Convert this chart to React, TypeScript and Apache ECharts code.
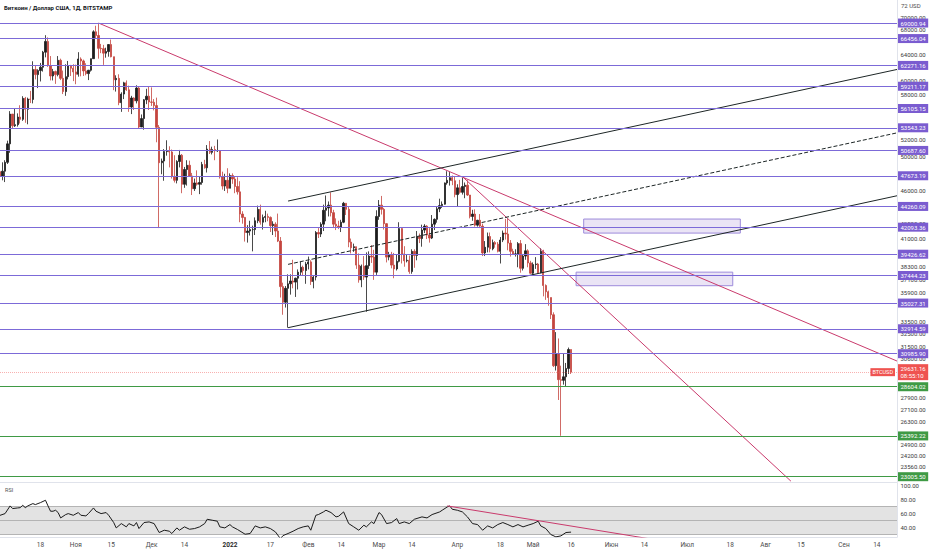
import React, { useEffect, useRef } from 'react';
import * as echarts from 'echarts';

const FONT = 'Roboto, "Liberation Sans", sans-serif';

// first category of the time axis and how many days the axis shows (incl. empty future)
const firstDay = '2021-10-02';
const dayCount = 356;

// daily candles from 2021-10-02 to 2022-05-16: [open, close, low, high]
const ohlc: number[][] = [
  // Oct 2021
  [48150, 47650, 47100, 48350], [47650, 48200, 47150, 49250], [48200, 49250, 46950, 49500], [49250, 51500, 49050, 51900],
  [51500, 55350, 50400, 55750], [55350, 53800, 53400, 55350], [53800, 53950, 53650, 56100], [53950, 54950, 53700, 55450],
  [54950, 54650, 54100, 56550], [54650, 57500, 54450, 57800], [57500, 56000, 54200, 57700], [56000, 57400, 54000, 57600],
  [57400, 57350, 56850, 58550], [57350, 61650, 56800, 62900], [61650, 60900, 60200, 62300], [60900, 61500, 58950, 61700],
  [61500, 62000, 59900, 62650], [62000, 64300, 61350, 64500], [64300, 66000, 63500, 67000], [66000, 62250, 62050, 66650],
  [62250, 60700, 60050, 63700], [60700, 61350, 60050, 61750], [61350, 60900, 59550, 61500], [60900, 63050, 60650, 63700],
  [63050, 60350, 60100, 63300], [60350, 58450, 58100, 61500], [58450, 60600, 57850, 62450], [60600, 62250, 60200, 62950],
  [62250, 61850, 60700, 62350], [61850, 61300, 59950, 62450],
  // Nov 2021
  [61300, 60950, 59500, 62400], [60950, 63250, 60600, 64300], [63250, 62950, 60650, 63500], [62950, 61450, 60700, 63150],
  [61450, 61050, 60800, 62600], [61050, 61550, 60100, 61600], [61550, 63300, 61350, 63300], [63300, 67550, 63300, 67800],
  [67550, 66950, 66400, 68550], [66950, 64900, 63300, 69000], [64900, 64850, 64150, 65600], [64850, 64150, 62350, 65450],
  [64150, 64400, 63450, 65000], [64400, 65500, 63600, 65550], [65500, 63600, 63500, 66300], [63600, 60150, 58650, 63600],
  [60150, 60350, 58450, 60800], [60350, 56900, 56550, 60950], [56900, 58100, 55650, 58350], [58100, 59700, 57400, 59850],
  [59700, 58700, 58550, 60050], [58700, 56300, 55650, 59300], [56300, 57550, 55350, 57850], [57550, 57150, 55900, 57650],
  [57150, 58950, 56800, 59350], [58950, 53650, 53500, 59200], [53650, 54750, 53650, 55300], [54750, 57300, 53300, 57400],
  [57300, 57800, 56700, 58850], [57800, 57000, 55900, 59200],
  // Dec 2021
  [57000, 56950, 56450, 59050], [56950, 56500, 55850, 57400], [56500, 53600, 51700, 57600], [53600, 49200, 42000, 53900],
  [49200, 49400, 47850, 49700], [49400, 50550, 47100, 50850], [50550, 50600, 50050, 51950], [50600, 50500, 48650, 51200],
  [50500, 47600, 47350, 50800], [47600, 47150, 46900, 50100], [47150, 49350, 46800, 49500], [49350, 50100, 48650, 50750],
  [50100, 46700, 45700, 50250], [46700, 48400, 46300, 48700], [48400, 48900, 46550, 49500], [48900, 47650, 47550, 49450],
  [47650, 46200, 45500, 48000], [46200, 46850, 45950, 47350], [46850, 46700, 46550, 48300], [46700, 46900, 45600, 47550],
  [46900, 49000, 46650, 49300], [49000, 48600, 48500, 49550], [48600, 50850, 48050, 51350], [50850, 50450, 50250, 51850],
  [50450, 50800, 50200, 51150], [50800, 50650, 49500, 51250], [50650, 50650, 50500, 52050], [50650, 47550, 47350, 50650],
  [47550, 46500, 46100, 48150], [46500, 47150, 45950, 47900], [47150, 46250, 45700, 48550],
  // Jan 2022
  [46250, 47700, 46250, 47950], [47700, 47300, 46750, 47950], [47300, 46450, 45700, 47550], [46450, 45850, 45550, 47500],
  [45850, 43450, 42600, 47050], [43450, 43100, 42450, 43750], [43100, 41550, 40650, 43150], [41550, 41700, 40550, 42300],
  [41700, 41850, 41250, 42750], [41850, 41850, 39700, 42250], [41850, 42750, 41300, 43100], [42750, 43950, 42500, 44350],
  [43950, 42600, 42350, 44450], [42600, 43100, 41850, 43400], [43100, 43200, 42600, 43800], [43200, 43100, 42700, 43500],
  [43100, 42250, 41600, 43200], [42250, 42400, 41300, 42700], [42400, 41700, 41100, 42600], [41700, 40700, 40600, 43500],
  [40700, 36450, 35500, 41100], [36450, 35100, 34050, 36800], [35100, 36300, 34650, 36500], [36300, 36700, 33000, 37550],
  [36700, 36950, 35750, 37550], [36950, 36850, 36300, 38900], [36850, 37200, 35550, 37250], [37200, 37750, 36200, 38000],
  [37750, 38200, 37400, 38700], [38200, 37900, 37400, 38350], [37900, 38500, 36700, 38700],
  // Feb 2022
  [38500, 38700, 38000, 39200], [38700, 36900, 36600, 38850], [36900, 37300, 36300, 37400], [37300, 41550, 37000, 41700],
  [41550, 41400, 41000, 42000], [41400, 42400, 41100, 42600], [42400, 43850, 41700, 44450], [43850, 44100, 42700, 45450],
  [44100, 44400, 43200, 44800], [44400, 43600, 43200, 45800], [43600, 42400, 42000, 43900], [42400, 42200, 41800, 43000],
  [42200, 42100, 41900, 42750], [42100, 42600, 41600, 42850], [42600, 44600, 42500, 44750], [44600, 43950, 43350, 44600],
  [43950, 40600, 40100, 44200], [40600, 40050, 39500, 40950], [40050, 40150, 39650, 40450], [40150, 38400, 38050, 40150],
  [38400, 37050, 36800, 39500], [37050, 38300, 36400, 38450], [38300, 37300, 37050, 39250], [37300, 38350, 34300, 39600],
  [38350, 39250, 38050, 39700], [39250, 39150, 38600, 40300], [39150, 37750, 37050, 39850], [37750, 43200, 37500, 43850],
  // Mar 2022
  [43200, 44400, 42850, 44950], [44400, 43950, 43400, 45400], [43950, 42450, 41850, 44100], [42450, 39150, 38650, 42500],
  [39150, 39400, 38850, 39650], [39400, 38400, 38100, 39650], [38400, 38050, 37200, 39550], [38050, 38750, 37900, 39400],
  [38750, 41950, 38650, 42600], [41950, 39450, 38550, 42000], [39450, 38800, 38250, 40200], [38800, 38850, 38650, 39350],
  [38850, 37800, 37600, 39300], [37800, 39700, 37600, 39900], [39700, 39300, 38150, 39900], [39300, 41150, 38850, 41700],
  [41150, 40950, 40500, 41450], [40950, 41800, 40150, 42350], [41800, 42200, 41500, 42400], [42200, 41300, 40900, 42300],
  [41300, 41000, 40550, 42000], [41000, 42400, 40900, 43350], [42400, 42900, 41800, 43000], [42900, 44000, 42550, 44250],
  [44000, 44350, 43650, 45100], [44350, 44500, 44100, 44800], [44500, 46850, 44450, 46900], [46850, 47150, 46650, 48200],
  [47150, 47450, 46550, 48100], [47450, 47100, 46600, 47700], [47100, 45550, 45250, 47600],
  // Apr 2022
  [45550, 46300, 44250, 46700], [46300, 45800, 45650, 47200], [45800, 46450, 45550, 47450], [46450, 46600, 45150, 46900],
  [46600, 45500, 45400, 47150], [45500, 43200, 43000, 45500], [43200, 43450, 42750, 43900], [43450, 42300, 42150, 43950],
  [42300, 42800, 42150, 42850], [42800, 42200, 42000, 43450], [42200, 39550, 39250, 42450], [39550, 40100, 39250, 40700],
  [40100, 41150, 39600, 41550], [41150, 39950, 39600, 41550], [39950, 40550, 39800, 40850], [40550, 40400, 40050, 40700],
  [40400, 39700, 39600, 40600], [39700, 40800, 38550, 41100], [40800, 41500, 40600, 41750], [41500, 41400, 40850, 42950],
  [41400, 40500, 39800, 42950], [40500, 39700, 39200, 40800], [39700, 39450, 39350, 39950], [39450, 39450, 39200, 39900],
  [39450, 40450, 38200, 40600], [40450, 38100, 37700, 40800], [38100, 39250, 37900, 39450], [39250, 39750, 38900, 40400],
  [39750, 38600, 38200, 39900], [38600, 37650, 37600, 38800],
  // May 2022
  [37650, 38450, 37400, 38650], [38450, 38500, 38050, 39150], [38500, 37700, 37600, 38600], [37700, 39700, 37650, 40000],
  [39700, 36550, 35600, 39850], [36550, 36000, 35300, 36650], [36000, 35500, 34800, 36100], [35500, 34050, 33700, 35500],
  [34050, 30100, 30000, 34250], [30100, 31000, 29750, 32650], [31000, 29100, 27700, 32150], [29100, 29050, 25400, 30100],
  [29050, 29300, 28750, 31000], [29300, 29900, 28650, 30300], [29900, 31300, 29500, 31450], [31300, 29631.16, 29500, 31300],
];

// RSI(14)
const rsiPoints: [string, number][] = [
  ['2021-10-02', 57], ['2021-10-04', 59.5], ['2021-10-06', 70.5], ['2021-10-07', 66.7], ['2021-10-09', 67.6],
  ['2021-10-10', 68], ['2021-10-11', 71.4], ['2021-10-12', 68], ['2021-10-13', 70.5], ['2021-10-15', 73.8],
  ['2021-10-16', 72.4], ['2021-10-18', 75.2], ['2021-10-20', 78.6], ['2021-10-21', 70.5], ['2021-10-22', 62.9],
  ['2021-10-23', 62.9], ['2021-10-24', 64.3], ['2021-10-25', 61], ['2021-10-26', 53.3], ['2021-10-28', 58.1],
  ['2021-10-29', 59.5], ['2021-10-31', 57.1], ['2021-11-02', 61], ['2021-11-03', 57.1], ['2021-11-05', 56.2],
  ['2021-11-06', 59.5], ['2021-11-08', 67.6], ['2021-11-09', 62.9], ['2021-11-11', 59.5], ['2021-11-13', 61],
  ['2021-11-14', 57.1], ['2021-11-16', 46.7], ['2021-11-17', 39], ['2021-11-19', 45.2], ['2021-11-21', 40.5],
  ['2021-11-22', 45.2], ['2021-11-24', 41.9], ['2021-11-25', 46.7], ['2021-11-26', 38.1], ['2021-11-28', 46.7],
  ['2021-11-30', 47.6], ['2021-12-02', 45.2], ['2021-12-04', 32.4], ['2021-12-06', 35.7], ['2021-12-08', 34.3],
  ['2021-12-09', 31], ['2021-12-11', 39], ['2021-12-12', 35.7], ['2021-12-14', 40.5], ['2021-12-16', 37.1],
  ['2021-12-18', 38.1], ['2021-12-20', 40.5], ['2021-12-22', 45.2], ['2021-12-23', 51.4], ['2021-12-25', 50],
  ['2021-12-27', 48.6], ['2021-12-28', 40.5], ['2021-12-30', 39], ['2022-01-01', 43.8], ['2022-01-02', 40.5],
  ['2022-01-04', 36.7], ['2022-01-07', 30], ['2022-01-09', 31], ['2022-01-11', 41.9], ['2022-01-13', 39],
  ['2022-01-15', 40.5], ['2022-01-17', 38.1], ['2022-01-19', 33.3], ['2022-01-21', 23.5], ['2022-01-22', 28],
  ['2022-01-24', 31], ['2022-01-26', 34.3], ['2022-01-28', 38.1], ['2022-01-30', 40.5], ['2022-02-01', 41.9],
  ['2022-02-02', 35.7], ['2022-02-04', 57.1], ['2022-02-05', 58.1], ['2022-02-07', 61.9], ['2022-02-08', 64.3],
  ['2022-02-10', 61], ['2022-02-12', 54.8], ['2022-02-13', 55.7], ['2022-02-15', 61.9], ['2022-02-17', 45.2],
  ['2022-02-19', 40.5], ['2022-02-21', 35.7], ['2022-02-23', 42.9], ['2022-02-24', 40.5], ['2022-02-26', 47.6],
  ['2022-02-27', 45.2], ['2022-03-01', 61], ['2022-03-02', 58.1], ['2022-03-04', 45.2], ['2022-03-06', 46.7],
  ['2022-03-08', 52.4], ['2022-03-09', 45.2], ['2022-03-11', 47.6], ['2022-03-13', 45.2], ['2022-03-15', 51.4],
  ['2022-03-18', 54.8], ['2022-03-20', 53.3], ['2022-03-22', 58.1], ['2022-03-25', 61.9], ['2022-03-26', 64.3],
  ['2022-03-28', 69], ['2022-03-29', 70.5], ['2022-03-30', 65.7], ['2022-04-01', 64.3], ['2022-04-03', 61.9],
  ['2022-04-05', 54.8], ['2022-04-07', 45.2], ['2022-04-09', 43.8], ['2022-04-11', 35.7], ['2022-04-13', 41.9],
  ['2022-04-15', 39], ['2022-04-17', 43.8], ['2022-04-19', 46.7], ['2022-04-21', 43.8], ['2022-04-23', 40.5],
  ['2022-04-25', 43.8], ['2022-04-27', 40.5], ['2022-04-29', 42.9], ['2022-05-01', 45.2], ['2022-05-03', 48.6],
  ['2022-05-04', 41.9], ['2022-05-06', 38.1], ['2022-05-08', 29.5], ['2022-05-10', 26.2], ['2022-05-12', 27.6],
  ['2022-05-14', 32.4], ['2022-05-16', 33],
];

// horizontal levels drawn on the chart
const purpleLevels = [69000.94, 66456.04, 62271.16, 59211.17, 56105.15, 53543.23, 50687.6, 47673.19,
  44260.09, 42093.36, 39426.62, 37444.23, 35027.31, 32914.59, 30985.9];
const greenLevels = [28604.02, 25392.22, 23005.5];

// price scale labels (those not hidden behind the level tags)
const priceTicks = [70000, 68000, 64000, 60000, 58000, 52000, 50000, 46000, 42500, 41000,
  38300, 37100, 35900, 33500, 32500, 31500, 30600, 27900, 27100, 26300, 25500, 24900, 24200, 23560];
const rsiTicks = [100, 80, 60, 40];
const scaleTitle = '72 USD';

const lastPrice = 29631.16;
const countdown = '08:55:10';

// trend lines: [from, to] as [date, price]
const pinkLines: [string, number][][] = [
  [['2021-11-10', 69000], ['2022-09-22', 30440]],
  [['2022-04-03', 47580], ['2022-08-11', 22760]],
];
const channelLines: [string, number][][] = [
  [['2022-01-24', 44840], ['2022-09-22', 61665]],
  [['2022-01-24', 33000], ['2022-09-22', 45420]],
];
const channelMid: [string, number][] = [['2022-01-24', 38470], ['2022-09-22', 52890]];
const rsiTrend: [string, number][] = [['2022-03-28', 70.5], ['2022-06-17', 22.9]];

// boxes: [date, price] corners
const zones: [string, number][][] = [
  [['2022-05-21', 42930], ['2022-07-22', 41495]],
  [['2022-05-18', 37750], ['2022-07-19', 36530]],
];

const xTickLabels: Record<string, string> = {
  '2021-10-18': '18', '2021-11-01': 'Ноя', '2021-11-15': '15', '2021-12-01': 'Дек', '2021-12-14': '14',
  '2022-01-01': '2022', '2022-01-17': '17', '2022-02-01': 'Фев', '2022-02-14': '14', '2022-03-01': 'Мар',
  '2022-03-14': '14', '2022-04-01': 'Апр', '2022-04-18': '18', '2022-05-01': 'Май', '2022-05-16': '16',
  '2022-06-01': 'Июн', '2022-06-14': '14', '2022-07-01': 'Июл', '2022-07-18': '18', '2022-08-01': 'Авг',
  '2022-08-15': '15', '2022-09-01': 'Сен', '2022-09-14': '14',
};

const PURPLE_LINE = '#7c6ad8';
const PURPLE_TAG = '#7a5cd0';
const GREEN = '#3f9a45';
const PINK = '#c93a6c';
const RED = '#ef5350';
const UP = '#1c1c1c';
const DOWN = '#c4453f';
const SCALE_LINE = '#e0e3eb';

function buildDates(): string[] {
  const out: string[] = [];
  const t0 = Date.parse(firstDay + 'T00:00:00Z');
  for (let i = 0; i < dayCount; i++) {
    out.push(new Date(t0 + i * 86400000).toISOString().slice(0, 10));
  }
  return out;
}

const tagLabel = (text: string, bg: string) => ({
  show: true,
  position: 'end',
  distance: 1,
  formatter: text,
  backgroundColor: bg,
  color: '#ffffff',
  fontSize: 6,
  lineHeight: 7,
  padding: [1, 2.5, 1, 2.5],
  fontFamily: FONT,
});

const App: React.FC = () => {
  const chartRef = useRef<HTMLDivElement | null>(null);

  useEffect(() => {
    if (!chartRef.current) return;
    const chart = echarts.init(chartRef.current, undefined, { renderer: 'svg' });
    const dates = buildDates();

    const trendSeries = (pts: [string, number][], color: string, type = 'solid') => ({
      type: 'line',
      xAxisIndex: 0,
      yAxisIndex: 0,
      data: pts,
      showSymbol: false,
      silent: true,
      z: 4,
      lineStyle: { color, width: 1, type },
    });

    const option = {
      animation: false,
      backgroundColor: '#ffffff',
      textStyle: { fontFamily: FONT },
      grid: [
        { left: 0, right: 35, top: 0, height: 482 },
        { left: 0, right: 35, top: 483, height: 54 },
      ],
      xAxis: [
        {
          type: 'category', gridIndex: 0, data: dates, boundaryGap: false,
          axisLabel: { show: false }, axisTick: { show: false }, splitLine: { show: false },
          axisLine: { show: true, lineStyle: { color: SCALE_LINE } },
        },
        {
          type: 'category', gridIndex: 1, data: dates, boundaryGap: false,
          axisTick: { show: false }, splitLine: { show: false },
          axisLine: { show: true, lineStyle: { color: SCALE_LINE } },
          axisLabel: {
            interval: (_i: number, v: string) => v in xTickLabels,
            formatter: (v: string) => (v === '2022-01-01' ? '{b|2022}' : xTickLabels[v]),
            fontSize: 6.5, color: '#4a4a4a', margin: 4, fontFamily: FONT,
            rich: { b: { fontWeight: 'bold', fontSize: 6.5, color: '#2a2a2a', fontFamily: FONT } },
          },
        },
      ],
      yAxis: [
        {
          type: 'log', gridIndex: 0, position: 'right', min: 22712, max: 72960,
          axisLabel: { show: false }, axisTick: { show: false }, splitLine: { show: false },
          axisLine: { show: true, lineStyle: { color: SCALE_LINE } },
        },
        {
          type: 'value', gridIndex: 1, position: 'right', min: 26, max: 103.3,
          axisLabel: { show: false }, axisTick: { show: false }, splitLine: { show: false },
          axisLine: { show: true, lineStyle: { color: SCALE_LINE } },
        },
      ],
      graphic: [
        {
          type: 'text', left: 4, top: 4,
          style: { text: 'Биткоин / Доллар США, 1Д, BITSTAMP', fontSize: 6, fontWeight: 'bold', fill: '#131722', fontFamily: FONT },
        },
        {
          type: 'text', left: 5, top: 487,
          style: { text: 'RSI', fontSize: 5.5, fill: '#555555', fontFamily: FONT },
        },
        {
          type: 'text', left: 901, top: 2,
          style: { text: scaleTitle, fontSize: 6, fill: '#4a4a4a', fontFamily: FONT },
        },
      ],
      series: [
        {
          type: 'line', xAxisIndex: 0, yAxisIndex: 0, data: [], silent: true,
          markArea: {
            silent: true,
            itemStyle: { color: 'rgba(126, 87, 194, 0.16)', borderColor: '#9d8bdb', borderWidth: 1 },
            data: zones.map(([a, b]) => [{ xAxis: a[0], yAxis: a[1] }, { xAxis: b[0], yAxis: b[1] }]),
          },
        },
        {
          type: 'candlestick', xAxisIndex: 0, yAxisIndex: 0, data: ohlc, barWidth: '72%', z: 3,
          itemStyle: { color: UP, color0: DOWN, borderColor: UP, borderColor0: DOWN, borderWidth: 0.8 },
        },
        ...pinkLines.map((l) => trendSeries(l, PINK)),
        ...channelLines.map((l) => trendSeries(l, '#1d2626')),
        trendSeries(channelMid, '#1d2626', 'dashed'),
        {
          // price scale labels
          type: 'line', xAxisIndex: 0, yAxisIndex: 0, data: [], silent: true, clip: false,
          markLine: {
            silent: true, symbol: ['none', 'none'], z: 3, precision: 2,
            lineStyle: { color: 'transparent', width: 0 },
            label: {
              show: true, position: 'end', distance: 3.5, color: '#3a3a3a', fontSize: 6, fontFamily: FONT,
              formatter: (p: any) => Number(p.value).toFixed(2),
            },
            data: priceTicks.map((v) => ({ yAxis: v })),
          },
        },
        {
          // drawn levels with tags
          type: 'line', xAxisIndex: 0, yAxisIndex: 0, data: [], silent: true, clip: false,
          markLine: {
            silent: true, symbol: ['none', 'none'], z: 6, precision: 2,
            data: [
              ...purpleLevels.map((v) => ({
                yAxis: v,
                lineStyle: { color: PURPLE_LINE, width: 1, type: 'solid' },
                label: tagLabel(v.toFixed(2), PURPLE_TAG),
              })),
              ...greenLevels.map((v) => ({
                yAxis: v,
                lineStyle: { color: GREEN, width: 1, type: 'solid' },
                label: tagLabel(v.toFixed(2), GREEN),
              })),
            ],
          },
        },
        {
          // last price
          type: 'line', xAxisIndex: 0, yAxisIndex: 0, data: [], silent: true, clip: false,
          markLine: {
            silent: true, symbol: ['none', 'none'], z: 7, precision: 2,
            data: [
              {
                yAxis: lastPrice,
                lineStyle: { color: 'rgba(239, 83, 80, 0.45)', width: 1, type: 'dotted' },
                label: tagLabel(lastPrice.toFixed(2) + '\n' + countdown, RED),
              },
              {
                yAxis: lastPrice,
                lineStyle: { color: 'transparent', width: 0 },
                label: {
                  show: true, position: 'insideEnd', distance: 2, formatter: 'BTCUSD',
                  backgroundColor: RED, color: '#ffffff', fontSize: 5.5, padding: [1, 2, 1, 2], fontFamily: FONT,
                },
              },
            ],
          },
        },
        {
          type: 'line', xAxisIndex: 1, yAxisIndex: 1, data: rsiPoints, showSymbol: false, silent: true, z: 3,
          lineStyle: { color: '#1a1a1a', width: 1 },
          markArea: {
            silent: true,
            itemStyle: { color: 'rgba(128, 128, 128, 0.22)' },
            data: [[{ yAxis: 30 }, { yAxis: 70 }]],
          },
          markLine: {
            silent: true, symbol: ['none', 'none'], z: 2,
            lineStyle: { color: '#b4b4b4', width: 1, type: 'solid' },
            label: { show: false },
            data: [{ yAxis: 70 }, { yAxis: 50 }, { yAxis: 30 }],
          },
        },
        {
          type: 'line', xAxisIndex: 1, yAxisIndex: 1, data: rsiTrend, showSymbol: false, silent: true, z: 4,
          lineStyle: { color: PINK, width: 1 },
        },
        {
          type: 'line', xAxisIndex: 1, yAxisIndex: 1, data: [], silent: true, clip: false,
          markLine: {
            silent: true, symbol: ['none', 'none'], z: 3,
            lineStyle: { color: 'transparent', width: 0 },
            label: {
              show: true, position: 'end', distance: 3.5, color: '#3a3a3a', fontSize: 6, fontFamily: FONT,
              formatter: (p: any) => Number(p.value).toFixed(2),
            },
            data: rsiTicks.map((v) => ({ yAxis: v })),
          },
        },
      ],
    };

    chart.setOption(option as any);
    return () => {
      chart.dispose();
    };
  }, []);

  return (
    <div
      ref={chartRef}
      style={{ position: 'fixed', left: 0, top: 0, width: 932, height: 550, background: '#ffffff' }}
    />
  );
};

export default App;
